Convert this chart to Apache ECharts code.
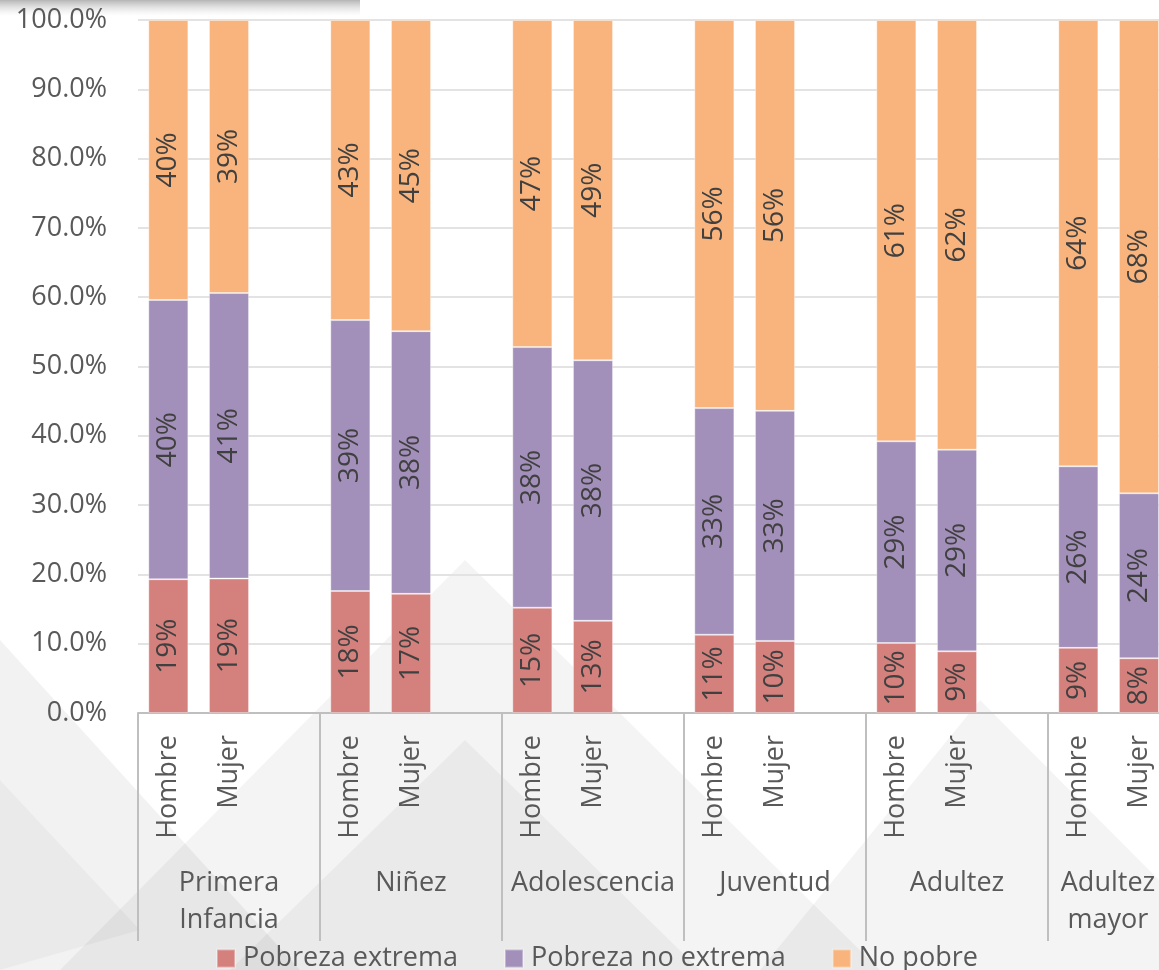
<!DOCTYPE html>
<html>
<head>
<meta charset="utf-8">
<script src="https://cdn.jsdelivr.net/npm/echarts@6/dist/echarts.min.js"></script>
<style>html,body{margin:0;padding:0;background:#fff;}#c{width:1159px;height:970px;}</style>
</head>
<body>
<div id="c"></div>
<script>
var groups = ['Primera\nInfancia', 'Niñez', 'Adolescencia', 'Juventud', 'Adultez', 'Adultez\nmayor'];
var sexes = ['Hombre', 'Mujer', ''];
var seriesNames = ['Pobreza extrema', 'Pobreza no extrema', 'No pobre'];
// values per group: [Hombre, Mujer]
var pobrezaExtrema = [[19.3, 19.4], [17.6, 17.2], [15.2, 13.3], [11.3, 10.4], [10.1, 8.9], [9.4, 7.9]];
var pobrezaNoExtrema = [[40.3, 41.2], [39.1, 37.9], [37.6, 37.6], [32.7, 33.2], [29.1, 29.1], [26.2, 23.8]];
var noPobre = [[40.4, 39.4], [43.3, 44.9], [47.2, 49.1], [56.0, 56.4], [60.8, 62.0], [64.4, 68.3]];
var yTicks = ['0.0%', '10.0%', '20.0%', '30.0%', '40.0%', '50.0%', '60.0%', '70.0%', '80.0%', '90.0%', '100.0%'];

var cats = [];
groups.forEach(function (g) { sexes.forEach(function (s) { cats.push(s); }); });
function flat(arr) {
  var out = [];
  arr.forEach(function (p) { out.push(p[0], p[1], '-'); });
  return out;
}
var groupData = groups.map(function (g, i) {
  // last group is partly cut off; its label sits in the visible part
  return i === groups.length - 1 ? { value: g, textStyle: { padding: [0, 62, 0, 0] } } : g;
});
var colors = ['#D4807D', '#A390BA', '#F8B47C'];
var dataSets = [pobrezaExtrema, pobrezaNoExtrema, noPobre];
var font = '"Open Sans", "Noto Sans", sans-serif';

var chart = echarts.init(document.getElementById('c'), null, { renderer: 'canvas' });
var series = dataSets.map(function (d, i) {
  return {
    name: seriesNames[i],
    type: 'bar',
    stack: 'total',
    xAxisIndex: 0,
    barWidth: '66%',
    data: flat(d),
    itemStyle: { color: colors[i], borderColor: 'rgba(255,255,255,0.35)', borderWidth: 1 },
    label: {
      show: true,
      position: 'inside',
      rotate: 90,
      color: '#404040',
      fontSize: 28,
      fontFamily: font,
      formatter: function (p) { return Math.round(p.value) + '%'; }
    }
  };
});

var option = {
  backgroundColor: '#ffffff',
  animation: false,
  graphic: [
    { type: 'polygon', z: -10, silent: true, shape: { points: [[0, 640], [300, 970], [0, 970]] }, style: { fill: 'rgba(0,0,0,0.05)' } },
    { type: 'polygon', z: -10, silent: true, shape: { points: [[465, 560], [880, 970], [60, 970]] }, style: { fill: 'rgba(0,0,0,0.045)' } },
    { type: 'polygon', z: -10, silent: true, shape: { points: [[465, 740], [700, 970], [230, 970]] }, style: { fill: 'rgba(0,0,0,0.04)' } },
    { type: 'polygon', z: -10, silent: true, shape: { points: [[980, 700], [1159, 880], [1159, 970], [760, 970]] }, style: { fill: 'rgba(0,0,0,0.045)' } },
    { type: 'polygon', z: -10, silent: true, shape: { points: [[0, 780], [140, 930], [0, 970]] }, style: { fill: 'rgba(0,0,0,0.03)' } },
    { type: 'rect', z: -5, silent: true, shape: { x: 0, y: 0, width: 360, height: 16 },
      style: { fill: new echarts.graphic.LinearGradient(0, 0, 0, 1, [{ offset: 0, color: 'rgba(120,120,120,0.55)' }, { offset: 1, color: 'rgba(200,200,200,0)' }]) } }
  ],
  grid: { left: 138, top: 20, height: 693, width: 1092, containLabel: false, outerBoundsMode: 'none' },
  legend: {
    top: 940,
    left: 211,
    itemWidth: 18,
    itemHeight: 18,
    itemGap: 46,
    icon: 'rect',
    textStyle: { fontSize: 27, color: '#595959', fontFamily: font, padding: [0, 0, 0, 3] },
    data: seriesNames
  },
  xAxis: [
    {
      type: 'category',
      data: cats,
      position: 'bottom',
      axisLine: { show: true, lineStyle: { color: '#BFBFBF', width: 2 } },
      axisTick: { show: false },
      axisLabel: { interval: 0, rotate: 90, margin: 22, fontSize: 27, color: '#595959', fontFamily: font }
    },
    {
      type: 'category',
      data: groupData,
      position: 'bottom',
      axisLine: { show: false },
      axisTick: { show: true, interval: 0, length: 228, lineStyle: { color: '#BFBFBF', width: 2 } },
      axisLabel: { interval: 0, margin: 152, fontSize: 27, lineHeight: 37, color: '#595959', fontFamily: font, verticalAlign: 'top' }
    }
  ],
  yAxis: {
    type: 'value',
    min: 0,
    max: 100,
    interval: 10,
    axisLine: { show: false },
    axisTick: { show: false },
    splitLine: { lineStyle: { color: '#E3E3E3', width: 2 } },
    axisLabel: {
      margin: 31,
      fontSize: 27,
      color: '#595959',
      fontFamily: font,
      formatter: function (v) { return yTicks[Math.round(v / 10)]; }
    }
  },
  series: series
};
chart.setOption(option);
</script>
</body>
</html>
